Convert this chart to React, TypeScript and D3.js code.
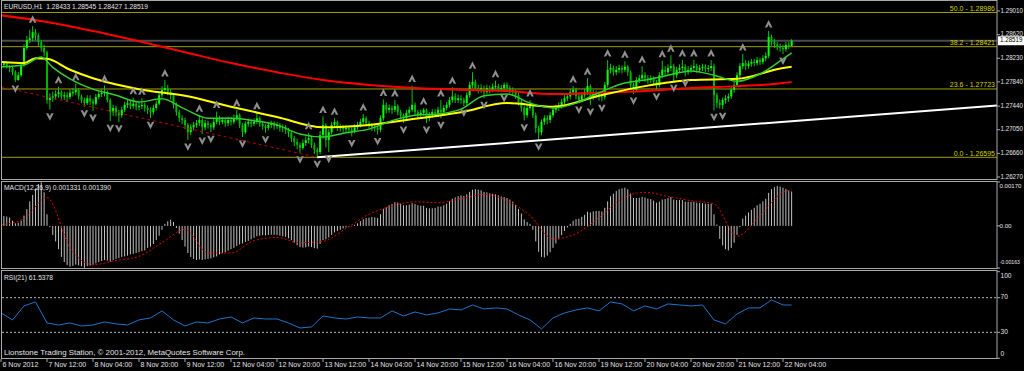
import React from "react";
import * as d3 from "d3";

// EURUSD H1, 6 Nov 2012 20:00 .. 22 Nov 2012 07:00 (276 bars)
const firstOpen = 1.2808;
const closes = [
  1.2812, 1.2815, 1.2810, 1.2807, 1.2800, 1.2787, 1.2795, 1.2812, 1.2840, 1.2853, 1.2856, 1.2866, 1.2861, 1.2850, 1.2840, 1.2833,
  1.2754, 1.2759, 1.2760, 1.2764, 1.2767, 1.2760, 1.2762, 1.2759, 1.2766, 1.2767, 1.2771, 1.2760, 1.2754, 1.2749, 1.2757, 1.2752,
  1.2748, 1.2759, 1.2764, 1.2766, 1.2767, 1.2754, 1.2734, 1.2741, 1.2734, 1.2729, 1.2738, 1.2746, 1.2749, 1.2744, 1.2748, 1.2743,
  1.2744, 1.2746, 1.2741, 1.2738, 1.2734, 1.2741, 1.2748, 1.2762, 1.2771, 1.2774, 1.2767, 1.2762, 1.2746, 1.2734, 1.2724, 1.2721,
  1.2713, 1.2701, 1.2709, 1.2713, 1.2716, 1.2721, 1.2709, 1.2716, 1.2713, 1.2709, 1.2718, 1.2724, 1.2718, 1.2721, 1.2716, 1.2721,
  1.2718, 1.2724, 1.2729, 1.2713, 1.2701, 1.2715, 1.2718, 1.2715, 1.2718, 1.2724, 1.2715, 1.2711, 1.2708, 1.2713, 1.2715, 1.2711,
  1.2713, 1.2708, 1.2709, 1.2705, 1.2700, 1.2691, 1.2685, 1.2680, 1.2675, 1.2683, 1.2688, 1.2691, 1.2680, 1.2672, 1.2668, 1.2696,
  1.2713, 1.2688, 1.2701, 1.2713, 1.2718, 1.2708, 1.2709, 1.2706, 1.2708, 1.2705, 1.2703, 1.2709, 1.2713, 1.2718, 1.2724, 1.2716,
  1.2713, 1.2709, 1.2708, 1.2705, 1.2724, 1.2746, 1.2738, 1.2741, 1.2738, 1.2744, 1.2734, 1.2729, 1.2724, 1.2733, 1.2738, 1.2746,
  1.2734, 1.2729, 1.2733, 1.2738, 1.2724, 1.2729, 1.2734, 1.2733, 1.2738, 1.2734, 1.2741, 1.2746, 1.2754, 1.2760, 1.2754, 1.2757,
  1.2754, 1.2749, 1.2762, 1.2779, 1.2784, 1.2774, 1.2771, 1.2774, 1.2767, 1.2774, 1.2771, 1.2776, 1.2777, 1.2772, 1.2774, 1.2779,
  1.2774, 1.2771, 1.2767, 1.2762, 1.2751, 1.2741, 1.2729, 1.2741, 1.2744, 1.2729, 1.2708, 1.2701, 1.2718, 1.2724, 1.2721, 1.2729,
  1.2738, 1.2741, 1.2744, 1.2751, 1.2757, 1.2760, 1.2767, 1.2771, 1.2760, 1.2754, 1.2762, 1.2767, 1.2777, 1.2759, 1.2766, 1.2764,
  1.2760, 1.2759, 1.2779, 1.2804, 1.2807, 1.2800, 1.2804, 1.2807, 1.2804, 1.2809, 1.2800, 1.2779, 1.2771, 1.2787, 1.2790, 1.2795,
  1.2790, 1.2787, 1.2790, 1.2784, 1.2779, 1.2795, 1.2804, 1.2800, 1.2807, 1.2810, 1.2795, 1.2804, 1.2807, 1.2809, 1.2800, 1.2804,
  1.2807, 1.2810, 1.2804, 1.2807, 1.2809, 1.2806, 1.2807, 1.2810, 1.2762, 1.2749, 1.2746, 1.2754, 1.2757, 1.2760, 1.2771, 1.2779,
  1.2795, 1.2810, 1.2815, 1.2810, 1.2814, 1.2817, 1.2815, 1.2820, 1.2817, 1.2823, 1.2827, 1.2858, 1.2850, 1.2846, 1.2842, 1.2840,
  1.2838, 1.2845, 1.28433, 1.28519,
];
const highs = [
  1.2817, 1.2818, 1.2818, 1.2812, 1.2810, 1.2803, 1.2800, 1.2816, 1.2846, 1.2860, 1.2870, 1.2876, 1.2871, 1.2864, 1.2853, 1.2845,
  1.2836, 1.2765, 1.2768, 1.2770, 1.2776, 1.2770, 1.2768, 1.2767, 1.2772, 1.2774, 1.2781, 1.2774, 1.2763, 1.2758, 1.2762, 1.2762,
  1.2756, 1.2764, 1.2769, 1.2772, 1.2778, 1.2770, 1.2757, 1.2746, 1.2745, 1.2738, 1.2743, 1.2751, 1.2755, 1.2754, 1.2758, 1.2752,
  1.2750, 1.2757, 1.2750, 1.2745, 1.2742, 1.2746, 1.2753, 1.2767, 1.2777, 1.2787, 1.2779, 1.2772, 1.2765, 1.2750, 1.2738, 1.2729,
  1.2725, 1.2716, 1.2714, 1.2718, 1.2721, 1.2729, 1.2724, 1.2721, 1.2720, 1.2716, 1.2723, 1.2735, 1.2728, 1.2726, 1.2725, 1.2727,
  1.2726, 1.2730, 1.2738, 1.2732, 1.2716, 1.2719, 1.2723, 1.2722, 1.2724, 1.2733, 1.2727, 1.2718, 1.2714, 1.2718, 1.2720, 1.2719,
  1.2718, 1.2716, 1.2714, 1.2713, 1.2708, 1.2703, 1.2695, 1.2690, 1.2684, 1.2689, 1.2694, 1.2700, 1.2694, 1.2684, 1.2676, 1.2703,
  1.2727, 1.2716, 1.2706, 1.2718, 1.2724, 1.2720, 1.2714, 1.2713, 1.2713, 1.2711, 1.2709, 1.2714, 1.2718, 1.2723, 1.2731, 1.2727,
  1.2720, 1.2716, 1.2714, 1.2712, 1.2729, 1.2755, 1.2750, 1.2747, 1.2745, 1.2754, 1.2747, 1.2738, 1.2732, 1.2738, 1.2743, 1.2778,
  1.2750, 1.2738, 1.2738, 1.2741, 1.2740, 1.2734, 1.2739, 1.2739, 1.2743, 1.2754, 1.2746, 1.2751, 1.2759, 1.2775, 1.2765, 1.2763,
  1.2762, 1.2758, 1.2767, 1.2784, 1.2800, 1.2788, 1.2779, 1.2780, 1.2778, 1.2779, 1.2778, 1.2781, 1.2786, 1.2781, 1.2779, 1.2783,
  1.2783, 1.2778, 1.2775, 1.2771, 1.2766, 1.2755, 1.2745, 1.2746, 1.2754, 1.2748, 1.2733, 1.2712, 1.2722, 1.2729, 1.2729, 1.2734,
  1.2742, 1.2746, 1.2750, 1.2756, 1.2762, 1.2766, 1.2772, 1.2777, 1.2774, 1.2764, 1.2767, 1.2773, 1.2790, 1.2780, 1.2771, 1.2770,
  1.2768, 1.2765, 1.2784, 1.2820, 1.2814, 1.2811, 1.2810, 1.2812, 1.2811, 1.2818, 1.2812, 1.2803, 1.2783, 1.2792, 1.2796, 1.2810,
  1.2800, 1.2795, 1.2795, 1.2793, 1.2787, 1.2800, 1.2819, 1.2810, 1.2813, 1.2828, 1.2814, 1.2809, 1.2813, 1.2820, 1.2813, 1.2810,
  1.2812, 1.2820, 1.2814, 1.2812, 1.2814, 1.2813, 1.2812, 1.2820, 1.2814, 1.2766, 1.2755, 1.2758, 1.2762, 1.2765, 1.2776, 1.2784,
  1.2800, 1.2815, 1.2830, 1.2820, 1.2819, 1.2822, 1.2822, 1.2825, 1.2824, 1.2828, 1.2833, 1.2868, 1.2862, 1.2855, 1.2850, 1.2847,
  1.2845, 1.2850, 1.2850, 1.28545,
];
const lows = [
  1.2805, 1.2808, 1.2806, 1.2800, 1.2795, 1.2784, 1.2786, 1.2792, 1.2809, 1.2836, 1.2848, 1.2851, 1.2853, 1.2843, 1.2834, 1.2826,
  1.2748, 1.2738, 1.2751, 1.2754, 1.2758, 1.2755, 1.2754, 1.2752, 1.2755, 1.2760, 1.2762, 1.2755, 1.2749, 1.2743, 1.2746, 1.2746,
  1.2736, 1.2745, 1.2755, 1.2759, 1.2760, 1.2750, 1.2719, 1.2728, 1.2727, 1.2718, 1.2725, 1.2734, 1.2741, 1.2739, 1.2740, 1.2737,
  1.2737, 1.2739, 1.2735, 1.2731, 1.2724, 1.2730, 1.2737, 1.2745, 1.2758, 1.2765, 1.2762, 1.2755, 1.2740, 1.2728, 1.2718, 1.2714,
  1.2706, 1.2688, 1.2696, 1.2704, 1.2708, 1.2711, 1.2698, 1.2704, 1.2707, 1.2701, 1.2705, 1.2714, 1.2713, 1.2714, 1.2710, 1.2711,
  1.2712, 1.2714, 1.2720, 1.2708, 1.2693, 1.2698, 1.2710, 1.2709, 1.2711, 1.2714, 1.2710, 1.2705, 1.2700, 1.2704, 1.2708, 1.2705,
  1.2706, 1.2702, 1.2701, 1.2698, 1.2693, 1.2685, 1.2678, 1.2673, 1.2667, 1.2672, 1.2678, 1.2682, 1.2675, 1.2665, 1.26595, 1.2664,
  1.2690, 1.2676, 1.2668, 1.2697, 1.2708, 1.2703, 1.2702, 1.2700, 1.2701, 1.2699, 1.2694, 1.2699, 1.2705, 1.2709, 1.2714, 1.2711,
  1.2707, 1.2703, 1.2702, 1.2697, 1.2701, 1.2720, 1.2732, 1.2733, 1.2731, 1.2734, 1.2729, 1.2722, 1.2716, 1.2720, 1.2729, 1.2734,
  1.2729, 1.2723, 1.2724, 1.2728, 1.2716, 1.2719, 1.2725, 1.2727, 1.2728, 1.2724, 1.2731, 1.2737, 1.2742, 1.2750, 1.2749, 1.2749,
  1.2748, 1.2744, 1.2745, 1.2758, 1.2774, 1.2769, 1.2765, 1.2766, 1.2757, 1.2763, 1.2765, 1.2767, 1.2771, 1.2767, 1.2767, 1.2768,
  1.2769, 1.2765, 1.2761, 1.2756, 1.2745, 1.2735, 1.2720, 1.2725, 1.2737, 1.2724, 1.2700, 1.2688, 1.2696, 1.2713, 1.2714, 1.2716,
  1.2725, 1.2733, 1.2736, 1.2740, 1.2747, 1.2752, 1.2755, 1.2762, 1.2755, 1.2749, 1.2750, 1.2758, 1.2762, 1.2746, 1.2754, 1.2757,
  1.2753, 1.2752, 1.2755, 1.2775, 1.2798, 1.2794, 1.2795, 1.2799, 1.2798, 1.2800, 1.2794, 1.2772, 1.2764, 1.2768, 1.2782, 1.2786,
  1.2784, 1.2781, 1.2782, 1.2778, 1.2771, 1.2775, 1.2790, 1.2794, 1.2796, 1.2802, 1.2785, 1.2790, 1.2799, 1.2802, 1.2793, 1.2796,
  1.2799, 1.2802, 1.2799, 1.2800, 1.2802, 1.2800, 1.2800, 1.2802, 1.2737, 1.2741, 1.2740, 1.2739, 1.2748, 1.2751, 1.2756, 1.2766,
  1.2775, 1.2791, 1.2805, 1.2804, 1.2806, 1.2809, 1.2810, 1.2811, 1.2812, 1.2813, 1.2818, 1.2823, 1.2844, 1.2840, 1.2836, 1.2834,
  1.2830, 1.2834, 1.2838, 1.28427,
];

// Bill Williams fractals (bar indices)
const upFractals = [11, 20, 26, 36, 46, 49, 57, 69, 75, 82, 89, 107, 112, 116, 126, 133, 137, 143, 147, 153, 157, 164, 172, 184, 199, 204, 211, 217, 223, 230, 233, 237, 241, 247, 258, 267];
const downFractals = [5, 17, 29, 32, 38, 41, 52, 65, 70, 73, 84, 92, 104, 110, 114, 122, 131, 140, 148, 153, 161, 168, 175, 182, 187, 201, 205, 209, 220, 228, 234, 238, 248, 251, 272];

// moving averages, read at sample bars
const redBars = [0, 16, 32, 48, 64, 80, 96, 112, 128, 144, 160, 176, 192, 208, 224, 240, 256, 272, 275];
const redMA = [1.2894, 1.2883, 1.2868, 1.2851, 1.2833, 1.2815, 1.2800, 1.2787, 1.2779, 1.2774, 1.2771, 1.2769, 1.2764, 1.2766, 1.2769, 1.2774, 1.2777, 1.2782, 1.2784];
const yellowBars = [0, 8, 12, 16, 24, 32, 48, 64, 80, 96, 112, 128, 144, 160, 176, 192, 208, 224, 240, 256, 272, 275];
const yellowMA = [1.2817, 1.2815, 1.2823, 1.2822, 1.2804, 1.2790, 1.2772, 1.2761, 1.2743, 1.2726, 1.2709, 1.2713, 1.2723, 1.2734, 1.2749, 1.2743, 1.2761, 1.2777, 1.2787, 1.2789, 1.2807, 1.2809];
const greenBars = [0, 8, 14, 18, 24, 32, 40, 48, 56, 64, 72, 80, 88, 96, 104, 112, 120, 128, 136, 144, 152, 160, 168, 176, 184, 192, 200, 208, 216, 224, 232, 240, 248, 256, 264, 272, 275];
const greenMA = [1.2809, 1.2812, 1.2825, 1.2808, 1.2789, 1.2772, 1.2762, 1.2751, 1.2756, 1.2739, 1.2724, 1.2724, 1.2720, 1.2713, 1.2698, 1.2693, 1.2700, 1.2706, 1.2720, 1.2729, 1.2731, 1.2739, 1.2761, 1.2764, 1.2749, 1.2741, 1.2749, 1.2766, 1.2781, 1.2787, 1.2795, 1.2802, 1.2795, 1.2785, 1.2797, 1.2822, 1.2832];

// MACD(12,26,9) histogram per bar, in units of 0.0001
const macdHist = [
  3.5, 3.8, 3.6, 3.2, 2.0, 1.0, 1.2, 2.0, 4.0, 6.5, 9.5, 12.0, 14.5, 16.2, 16.9, 13.0,
  4.5, -0.5, -3.5, -6.0, -9.0, -12.0, -14.0, -15.2, -15.8, -15.5, -15.0, -15.3, -15.6, -16.2, -15.6, -15.4,
  -15.2, -14.5, -14.0, -13.6, -13.2, -13.4, -13.8, -13.2, -12.8, -12.5, -12.0, -11.8, -11.5, -11.0, -10.8, -10.5,
  -10.2, -9.8, -9.5, -8.5, -8.0, -7.0, -5.5, -3.8, -1.5, 0.8, 1.8, 2.4, 1.5, -0.8, -3.0, -5.5,
  -8.0, -10.5, -12.0, -12.8, -13.2, -13.0, -13.2, -13.0, -12.8, -12.6, -12.2, -11.8, -11.0, -10.5, -10.2, -9.6,
  -9.0, -8.5, -7.8, -7.2, -6.8, -6.2, -5.8, -5.2, -4.6, -4.0, -3.8, -3.6, -3.7, -3.5, -3.4, -3.5,
  -3.6, -3.8, -4.0, -4.2, -4.8, -5.5, -6.5, -7.5, -8.2, -8.4, -8.3, -8.0, -8.2, -8.6, -8.8, -7.0,
  -5.5, -5.2, -4.5, -3.5, -2.5, -2.0, -1.5, -1.0, -0.6, -0.3, -0.2, 0.4, 1.0, 1.8, 2.6, 3.0,
  3.2, 3.4, 3.3, 3.0, 4.5, 6.5, 7.2, 8.0, 8.5, 9.2, 9.0, 8.6, 8.0, 8.0, 8.2, 8.8,
  8.5, 8.0, 7.8, 7.8, 7.0, 6.8, 6.8, 7.0, 7.5, 7.5, 8.0, 8.6, 9.5, 10.5, 11.0, 11.5,
  11.8, 11.6, 12.2, 13.2, 14.0, 14.2, 14.0, 13.8, 13.2, 13.0, 12.6, 12.4, 12.2, 11.8, 11.4, 11.2,
  10.8, 10.2, 9.4, 8.2, 6.6, 4.8, 2.5, 1.5, 0.8, -1.5, -6.0, -10.0, -12.0, -12.2, -11.5, -10.2,
  -8.5, -6.8, -5.2, -3.6, -2.0, -0.6, 0.8, 2.0, 2.6, 2.8, 3.5, 4.3, 5.5, 5.2, 5.6, 5.8,
  5.8, 5.6, 7.0, 9.5, 11.5, 12.5, 13.5, 14.2, 14.5, 14.8, 14.2, 12.5, 10.8, 10.8, 10.9, 11.2,
  11.0, 10.6, 10.4, 9.8, 9.0, 9.4, 10.2, 10.4, 10.8, 11.2, 10.2, 10.0, 10.0, 10.0, 9.4, 9.3,
  9.3, 9.4, 9.0, 8.9, 8.8, 8.6, 8.5, 8.6, 4.5, 0.5, -5.0, -7.5, -9.0, -9.5, -8.5, -6.5,
  -3.5, -0.5, 2.8, 4.0, 5.2, 6.2, 7.0, 8.0, 8.6, 9.5, 10.5, 12.8, 14.2, 15.0, 15.4, 15.2,
  14.8, 14.3, 13.8, 13.31,
].map((v) => v / 10000);
const signalBars = [0, 8, 16, 24, 32, 40, 48, 56, 64, 72, 80, 88, 96, 104, 112, 120, 128, 136, 144, 152, 160, 168, 176, 184, 192, 200, 208, 216, 224, 232, 240, 248, 256, 264, 272, 275];
const signalVals = [
  0.4, 2.8, 11.0, -8.5, -15.0, -13.4, -11.8, -6.5, -1.4, -10.5, -10.5, -5.7, -4.5, -6.5, -6.0, -1.0, 4.5, 7.7,
  9.3, 9.0, 10.5, 12.2, 9.8, 4.0, -5.0, -3.0, 3.2, 10.5, 13.0, 11.4, 9.8, 8.5, -4.0, 4.0, 13.0, 13.9,
].map((v) => v / 10000);

// RSI(21), read every 4 bars
const rsiBars = [...d3.range(0, 273, 4), 275];
const rsiVals = [
  52.4, 44.3, 60.5, 65.1, 40.8, 38.5, 40.8, 37.3, 38.5, 42.0, 39.7, 38.5, 44.3, 46.6, 54.7, 44.3,
  37.3, 42.0, 40.8, 45.4, 47.7, 40.8, 46.6, 45.4, 45.4, 40.8, 35.0, 36.2, 48.9, 46.6, 45.4, 47.7,
  46.6, 46.6, 54.7, 48.9, 53.5, 50.1, 52.4, 57.0, 55.8, 61.6, 57.0, 58.2, 57.0, 50.1, 44.3, 33.9,
  46.6, 52.4, 55.8, 58.2, 54.7, 65.1, 62.8, 54.7, 60.5, 57.0, 62.8, 61.6, 60.5, 61.6, 44.3, 39.7,
  51.2, 58.2, 58.2, 67.4, 61.6, 61.5378,
];

const fibNames = ["50.0", "38.2", "23.6", "0.0"];
const fibPrices = [1.28986, 1.28421, 1.27723, 1.26595];
const priceTicks = [1.2901, 1.2862, 1.2823, 1.2784, 1.2744, 1.2705, 1.2666, 1.2627];
const macdTicks = [0.0017, 0, -0.00163];
const macdTickLabels = ["0.00170", "0.00", "-0.00163"];
const rsiTicks = [100, 70, 30, 0];
const rsiLevels = [70, 30];
const timeBars = [0, 16, 32, 48, 64, 80, 96, 112, 128, 144, 160, 176, 192, 208, 224, 240, 256, 272];
const timeLabels = [
  "6 Nov 2012", "7 Nov 12:00", "8 Nov 04:00", "8 Nov 20:00", "9 Nov 12:00", "12 Nov 04:00",
  "12 Nov 20:00", "13 Nov 12:00", "14 Nov 04:00", "14 Nov 20:00", "15 Nov 12:00", "16 Nov 04:00",
  "16 Nov 20:00", "19 Nov 12:00", "20 Nov 04:00", "20 Nov 20:00", "21 Nov 12:00", "22 Nov 04:00",
];
// trend lines: [bar, price] anchors
const supportLine = [[110, 1.26595], [272, 1.2718]];
const resistLine = [[0, 1.2776], [110, 1.26595]];
const bid = 1.28519;

const W = 1024;
const H = 371;
const AX = 997;
const FONT = "'Liberation Sans', Arial, sans-serif";
const FS = 7;
const FRAME = "#a8a8a8";
const TXT = "#e4e4e4";

export default function App() {
  const x = d3.scaleLinear().domain([0, 272]).range([1, 783]);
  const y = d3.scaleLinear().domain([1.2627, 1.2901]).range([177, 11]);
  const yM = d3.scaleLinear().domain([-0.00163, 0.0017]).range([268, 182]);
  const yR = d3.scaleLinear().domain([0, 100]).range([358.3, 271.7]);

  const opens = [firstOpen, ...closes.slice(0, -1)];

  const maLine = (bars: number[]) =>
    d3.line<number>().x((_, k) => x(bars[k])).y((v) => y(v)).curve(d3.curveMonotoneX);
  const sigLine = d3.line<number>().x((_, k) => x(signalBars[k])).y((v) => yM(v)).curve(d3.curveMonotoneX);
  const rsiLine = d3.line<number>().x((_, k) => x(rsiBars[k])).y((v) => yR(v));

  const ext = (a: number[][], toBar: number) => {
    const [[b1, p1], [b2, p2]] = a;
    return p1 + ((p2 - p1) * (toBar - b1)) / (b2 - b1);
  };
  const rayEnd = x.invert(AX);

  const upGlyph = (cx: number, cy: number) =>
    `M${cx},${cy - 4}L${cx + 3.8},${cy + 3.5}L${cx + 1.5},${cy + 3.5}L${cx},${cy + 0.6}L${cx - 1.5},${cy + 3.5}L${cx - 3.8},${cy + 3.5}Z`;
  const downGlyph = (cx: number, cy: number) =>
    `M${cx},${cy + 4}L${cx + 3.8},${cy - 3.5}L${cx + 1.5},${cy - 3.5}L${cx},${cy - 0.6}L${cx - 1.5},${cy - 3.5}L${cx - 3.8},${cy - 3.5}Z`;

  const axisLabel = { fontSize: 6.6 };

  return (
    <svg width={W} height={H} style={{ position: "absolute", left: 0, top: 0, display: "block" }} fontFamily={FONT} fontSize={FS}>
      <rect width={W} height={H} fill="#000" />

      <defs>
        <clipPath id="mainClip"><rect x={2} y={1} width={AX - 2} height={178} /></clipPath>
        <clipPath id="macdClip"><rect x={2} y={182} width={AX - 2} height={86} /></clipPath>
        <clipPath id="rsiClip"><rect x={2} y={271} width={AX - 2} height={87} /></clipPath>
      </defs>

      {/* main panel */}
      <g clipPath="url(#mainClip)">
        {fibPrices.map((p, k) => (
          <line key={k} x1={2} x2={AX} y1={y(p)} y2={y(p)} stroke="#a39f00" strokeWidth={1} />
        ))}
        <line x1={2} x2={AX} y1={y(bid)} y2={y(bid)} stroke="#4a4a52" strokeWidth={2} />

        {closes.map((c, i) => {
          const o = opens[i];
          const top = y(Math.max(o, c));
          const bot = y(Math.min(o, c));
          const cx = x(i);
          return (
            <g key={i}>
              <line x1={cx} x2={cx} y1={y(highs[i])} y2={y(lows[i])} stroke="#00c800" strokeWidth={1} />
              <rect x={cx - 1} y={top} width={2} height={Math.max(1, bot - top)} fill={c >= o ? "#00ff00" : "#00b400"} />
            </g>
          );
        })}

        <path d={maLine(redBars)(redMA) ?? ""} fill="none" stroke="#ff0000" strokeWidth={2} />
        <path d={maLine(yellowBars)(yellowMA) ?? ""} fill="none" stroke="#ffff00" strokeWidth={2} />
        <path d={maLine(greenBars)(greenMA) ?? ""} fill="none" stroke="#32cd32" strokeWidth={1.5} />

        <line
          x1={x(resistLine[0][0])} y1={y(resistLine[0][1])} x2={x(resistLine[1][0])} y2={y(resistLine[1][1])}
          stroke="#c00000" strokeWidth={1} strokeDasharray="3,3"
        />
        <line
          x1={x(supportLine[0][0])} y1={y(supportLine[0][1])} x2={AX} y2={y(ext(supportLine, rayEnd))}
          stroke="#ffffff" strokeWidth={2}
        />

        {upFractals.map((b) => (
          <path key={"u" + b} d={upGlyph(x(b), y(highs[b]) - 7)} fill="#8f8f8f" />
        ))}
        {downFractals.map((b) => (
          <path key={"d" + b} d={downGlyph(x(b), y(lows[b]) + 7)} fill="#8f8f8f" />
        ))}

        {fibPrices.map((p, k) => (
          <text key={k} x={AX - 2} y={y(p) - 1.5} textAnchor="end" fill="#d4d000">
            {`${fibNames[k]} - ${p.toFixed(5)}`}
          </text>
        ))}
      </g>
      <text x={4} y={7} dominantBaseline="middle" fill={TXT} xmlSpace="preserve" textLength={144} lengthAdjust="spacingAndGlyphs">
        {"EURUSD,H1  1.28433 1.28545 1.28427 1.28519"}
      </text>

      {/* MACD panel */}
      <g clipPath="url(#macdClip)">
        {macdHist.map((v, i) => (
          <line key={i} x1={x(i)} x2={x(i)} y1={yM(0)} y2={yM(v)} stroke="#c0c0c0" strokeWidth={1} />
        ))}
        <path d={sigLine(signalVals) ?? ""} fill="none" stroke="#e00000" strokeWidth={1} strokeDasharray="2,2" />
      </g>
      <text x={4} y={188} dominantBaseline="middle" fill={TXT} textLength={107} lengthAdjust="spacingAndGlyphs">
        MACD(12,26,9) 0.001331 0.001390
      </text>

      {/* RSI panel */}
      <g clipPath="url(#rsiClip)">
        {rsiLevels.map((l) => (
          <line key={l} x1={2} x2={AX} y1={yR(l)} y2={yR(l)} stroke="#b8b8b8" strokeWidth={1} strokeDasharray="2,2" />
        ))}
        <path d={rsiLine(rsiVals) ?? ""} fill="none" stroke="#1f74cc" strokeWidth={1} />
      </g>
      <text x={4} y={278.5} dominantBaseline="middle" fill={TXT} textLength={49} lengthAdjust="spacingAndGlyphs">
        RSI(21) 61.5378
      </text>
      <text x={4} y={353} dominantBaseline="middle" fill={TXT} textLength={241} lengthAdjust="spacingAndGlyphs">
        Lionstone Trading Station, © 2001-2012, MetaQuotes Software Corp.
      </text>

      {/* frames */}
      <rect x={1.5} y={0.5} width={AX - 1.5} height={179} fill="none" stroke={FRAME} />
      <rect x={1.5} y={181.5} width={AX - 1.5} height={87} fill="none" stroke={FRAME} />
      <rect x={1.5} y={270.5} width={AX - 1.5} height={88} fill="none" stroke={FRAME} />

      {/* right price axis */}
      {priceTicks.map((p) => (
        <g key={p}>
          <line x1={AX} x2={AX + 3} y1={y(p)} y2={y(p)} stroke={FRAME} />
          <text x={AX + 3.5} y={y(p)} dominantBaseline="middle" fill={TXT} {...axisLabel} textLength={22.5} lengthAdjust="spacingAndGlyphs">
            {p.toFixed(5)}
          </text>
        </g>
      ))}
      <rect x={AX + 1} y={y(bid) - 4.5} width={W - AX - 1} height={9} fill="#ffffff" />
      <text x={AX + 3} y={y(bid)} dominantBaseline="middle" fill="#000" {...axisLabel} textLength={22.5} lengthAdjust="spacingAndGlyphs">
        {bid.toFixed(5)}
      </text>

      {macdTicks.map((v, k) => (
        <g key={k}>
          <line x1={AX} x2={AX + 3} y1={yM(v)} y2={yM(v)} stroke={FRAME} />
          <text
            x={AX + 2.5} y={Math.min(262, Math.max(186, yM(v)))} dominantBaseline="middle" fill={TXT} fontSize={6.2}
            textLength={k === 2 ? 20.5 : k === 0 ? 22 : undefined} lengthAdjust="spacingAndGlyphs"
          >
            {macdTickLabels[k]}
          </text>
        </g>
      ))}
      {rsiTicks.map((v) => (
        <g key={v}>
          <line x1={AX} x2={AX + 3} y1={yR(v)} y2={yR(v)} stroke={FRAME} />
          <text x={AX + 3.5} y={Math.min(354, Math.max(276, yR(v)))} dominantBaseline="middle" fill={TXT} {...axisLabel}>{v}</text>
        </g>
      ))}

      {/* time axis */}
      {timeBars.map((b, k) => (
        <g key={b}>
          <line x1={x(b)} x2={x(b)} y1={359} y2={362} stroke={FRAME} />
          <text x={x(b) + 1.5} y={365.5} dominantBaseline="middle" fill={TXT}>{timeLabels[k]}</text>
        </g>
      ))}
    </svg>
  );
}
